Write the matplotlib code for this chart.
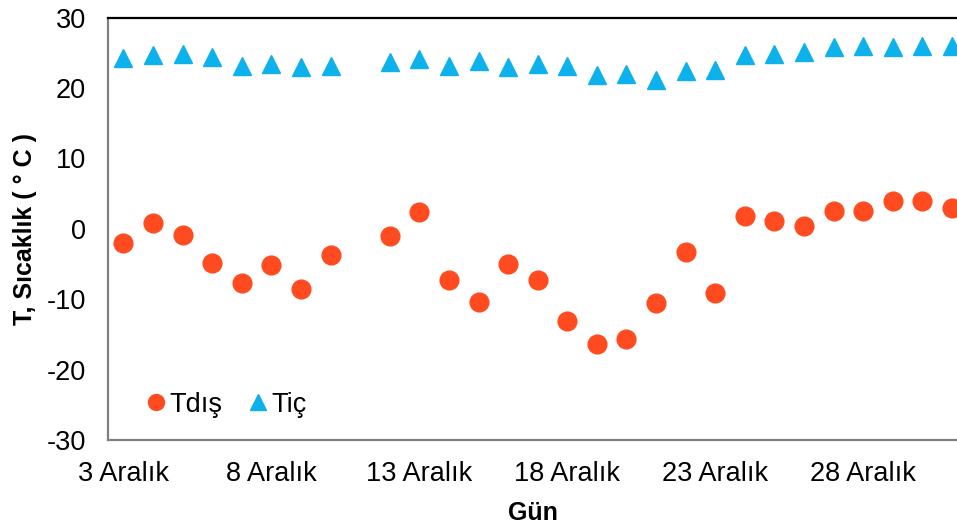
import matplotlib.pyplot as plt

plt.rcParams['font.family'] = ['Liberation Sans', 'DejaVu Sans']
plt.rcParams['axes.unicode_minus'] = False

# days of December (11 missing)
days = [3, 4, 5, 6, 7, 8, 9, 10, 12, 13, 14, 15, 16, 17, 18, 19, 20, 21, 22, 23,
        24, 25, 26, 27, 28, 29, 30, 31]
t_dis = [-2.0, 0.9, -0.9, -4.8, -7.7, -5.1, -8.5, -3.7, -1.0, 2.4, -7.2, -10.4,
         -5.0, -7.3, -13.1, -16.3, -15.7, -10.5, -3.3, -9.1, 1.8, 1.1, 0.4, 2.6,
         2.6, 3.9, 3.9, 2.9]
t_ic = [24.3, 24.7, 24.9, 24.4, 23.1, 23.4, 23.0, 23.1, 23.7, 24.2, 23.2, 23.8,
        23.0, 23.4, 23.1, 21.9, 22.0, 21.1, 22.4, 22.6, 24.7, 24.8, 25.1, 25.9,
        26.0, 25.8, 26.0, 26.0]
tick_days = [3, 8, 13, 18, 23, 28]
tick_labels = [f"{d} Aralık" for d in tick_days]

fig = plt.figure(figsize=(9.57, 5.26), dpi=100)
ax = fig.add_axes([0.1129, 0.1635, 0.8871, 0.8028])

ax.plot(days, t_dis, 'o', color='#FF4B1F', markersize=13.5, label='Tdış', linestyle='none')
ax.plot(days, t_ic, '^', color='#0DB1EC', markersize=13.5, label='Tiç', linestyle='none')

ax.set_xlim(2.48, 31.17)
ax.set_ylim(-30, 30)
ax.set_yticks(range(-30, 31, 10))
ax.set_xticks(tick_days)
ax.set_xticklabels(tick_labels)
ax.tick_params(axis='both', length=0, labelsize=19.5)
ax.tick_params(axis='y', pad=16)
ax.tick_params(axis='x', pad=15)

ax.spines['right'].set_visible(False)
ax.spines['top'].set_color('black')
ax.spines['top'].set_linewidth(1.6)
for s in ['left', 'bottom']:
    ax.spines[s].set_color('#808080')
    ax.spines[s].set_linewidth(1.6)

ax.set_xlabel('Gün', fontsize=18, fontweight='bold')
ax.xaxis.set_label_coords(0.5, -0.145)
ax.set_ylabel('T, Sıcaklık ( ° C )', fontsize=18, fontweight='bold')
ax.yaxis.set_label_coords(-0.084, 0.5)

ax.legend(loc='center left', bbox_to_anchor=(0.028, 0.083), ncol=2, frameon=False,
          fontsize=19.5, handlelength=0.8, handletextpad=0.1, columnspacing=0.9,
          markerscale=0.85, borderpad=0)

fig.savefig('out.png', dpi=100)
